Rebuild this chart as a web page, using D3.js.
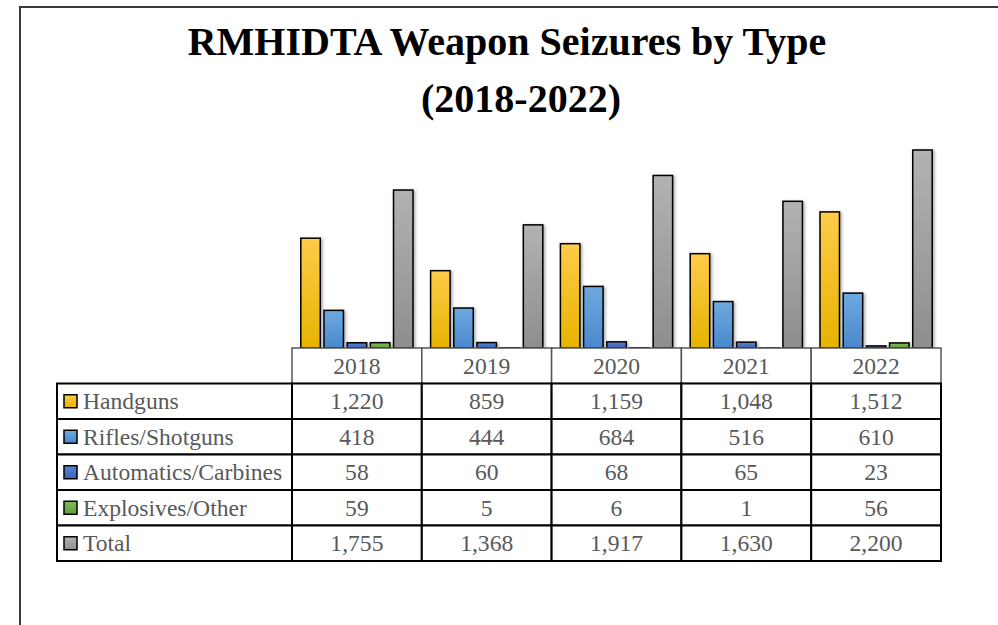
<!DOCTYPE html>
<html>
<head>
<meta charset="utf-8">
<script src="https://cdn.jsdelivr.net/npm/d3@7"></script>
<style>
    html, body { margin: 0; padding: 0; background: #fff; overflow: hidden; }
    #chart { display: block; }
    .tbl-text { font-family: "Liberation Serif", "Times New Roman", serif; font-size: 23.6px; fill: #595959; }
    .title { font-family: "Liberation Serif", "Times New Roman", serif; font-size: 40px; font-weight: bold; fill: #000; }
</style>
</head>
<body>
<svg id="chart" width="998" height="625"></svg>
<script>
// Data
const years = ['2018', '2019', '2020', '2021', '2022'];
const seriesNames = ['Handguns', 'Rifles/Shotguns', 'Automatics/Carbines', 'Explosives/Other', 'Total'];
const handguns = [1220, 859, 1159, 1048, 1512];
const rifles = [418, 444, 684, 516, 610];
const automatics = [58, 60, 68, 65, 23];
const explosives = [59, 5, 6, 1, 56];
const totals = [1755, 1368, 1917, 1630, 2200];

const seriesValues = [handguns, rifles, automatics, explosives, totals];
// top / bottom gradient colours per series
const seriesColors = [
    ['#FFCB4A', '#E6B400'],
    ['#6EA9E0', '#4A88CC'],
    ['#5A82D0', '#3B63B8'],
    ['#80BD58', '#62A03A'],
    ['#B2B2B2', '#8E8E8E']
];

const svg = d3.select('#chart');

// outer frame (runs off the right and bottom of the picture)
svg.append('rect')
    .attr('x', 20)
    .attr('y', 7)
    .attr('width', 1100)
    .attr('height', 800)
    .attr('fill', 'none')
    .attr('stroke', '#3a3a3a')
    .attr('stroke-width', 2);

// Title
svg.append('text')
    .attr('class', 'title')
    .attr('x', 507)
    .attr('y', 55)
    .attr('text-anchor', 'middle')
    .text('RMHIDTA Weapon Seizures by Type');
svg.append('text')
    .attr('class', 'title')
    .attr('x', 521)
    .attr('y', 112)
    .attr('text-anchor', 'middle')
    .text('(2018-2022)');

// gradients + shadow
const defs = svg.append('defs');
seriesColors.forEach((c, i) => {
    const g = defs.append('linearGradient')
        .attr('id', 'grad' + i)
        .attr('x1', 0).attr('y1', 0).attr('x2', 0).attr('y2', 1);
    g.append('stop').attr('offset', '0%').attr('stop-color', c[0]);
    g.append('stop').attr('offset', '100%').attr('stop-color', c[1]);
});
defs.append('filter')
    .attr('id', 'shadow')
    .attr('x', '-20%').attr('y', '-20%').attr('width', '160%').attr('height', '140%')
    .append('feDropShadow')
    .attr('dx', 1.5).attr('dy', 1)
    .attr('stdDeviation', 1.5)
    .attr('flood-color', '#000')
    .attr('flood-opacity', 0.35);

// Scales
const tableLeft = 57;
const colLeft = 292;
const colRight = 941;
const baseY = 348;

const x0 = d3.scaleBand()
    .domain(years)
    .range([colLeft, colRight]);

const x1 = d3.scaleBand()
    .domain(seriesNames)
    .range([0, x0.bandwidth()])
    .paddingInner(0.16)
    .paddingOuter(0.38);

const y = d3.scaleLinear()
    .domain([0, 2500])
    .range([baseY, 123]);

const rowY = d3.scaleBand()
    .domain(['header'].concat(seriesNames))
    .range([baseY, 561]);

// Bars
const barData = [];
seriesNames.forEach((s, i) => {
    years.forEach((yr, j) => {
        barData.push({ series: s, idx: i, year: yr, value: seriesValues[i][j] });
    });
});

svg.append('g')
    .selectAll('.bar')
    .data(barData)
    .enter()
    .append('rect')
    .attr('class', 'bar')
    .attr('x', d => x0(d.year) + x1(d.series))
    .attr('y', d => y(d.value))
    .attr('width', x1.bandwidth())
    .attr('height', d => baseY - y(d.value))
    .attr('fill', d => 'url(#grad' + d.idx + ')')
    .attr('stroke', '#000')
    .attr('stroke-width', 1.5)
    .attr('filter', 'url(#shadow)');

// Data table
const tbl = svg.append('g');

// header cells (years only)
tbl.selectAll('.hdr-cell')
    .data(years)
    .enter()
    .append('rect')
    .attr('x', d => x0(d))
    .attr('y', rowY('header'))
    .attr('width', x0.bandwidth())
    .attr('height', rowY.bandwidth())
    .attr('fill', '#fff')
    .attr('stroke', '#555')
    .attr('stroke-width', 1.5);

tbl.selectAll('.hdr-text')
    .data(years)
    .enter()
    .append('text')
    .attr('class', 'tbl-text')
    .attr('x', d => x0(d) + x0.bandwidth() / 2)
    .attr('y', rowY('header') + rowY.bandwidth() / 2 + 8)
    .attr('text-anchor', 'middle')
    .text(d => d);

// body grid
const rows = tbl.selectAll('.row')
    .data(seriesNames)
    .enter()
    .append('g')
    .attr('class', 'row');

rows.append('rect')
    .attr('x', tableLeft)
    .attr('y', d => rowY(d))
    .attr('width', colLeft - tableLeft)
    .attr('height', rowY.bandwidth())
    .attr('fill', '#fff')
    .attr('stroke', '#000')
    .attr('stroke-width', 2);

rows.selectAll('.cell')
    .data(d => years.map(yr => ({ series: d, year: yr })))
    .enter()
    .append('rect')
    .attr('x', d => x0(d.year))
    .attr('y', d => rowY(d.series))
    .attr('width', x0.bandwidth())
    .attr('height', rowY.bandwidth())
    .attr('fill', '#fff')
    .attr('stroke', '#000')
    .attr('stroke-width', 2);

// legend keys
rows.append('rect')
    .attr('x', 64)
    .attr('y', d => rowY(d) + rowY.bandwidth() / 2 - 6.5)
    .attr('width', 13)
    .attr('height', 13)
    .attr('fill', (d, i) => 'url(#grad' + i + ')')
    .attr('stroke', '#000')
    .attr('stroke-width', 1.5);

rows.append('text')
    .attr('class', 'tbl-text')
    .attr('x', 83)
    .attr('y', d => rowY(d) + rowY.bandwidth() / 2 + 8)
    .text(d => d);

const fmt = d3.format(',');
rows.selectAll('.val')
    .data((d, i) => years.map((yr, j) => ({ series: d, year: yr, value: seriesValues[i][j] })))
    .enter()
    .append('text')
    .attr('class', 'tbl-text')
    .attr('x', d => x0(d.year) + x0.bandwidth() / 2)
    .attr('y', d => rowY(d.series) + rowY.bandwidth() / 2 + 8)
    .attr('text-anchor', 'middle')
    .text(d => fmt(d.value));
</script>
</body>
</html>
